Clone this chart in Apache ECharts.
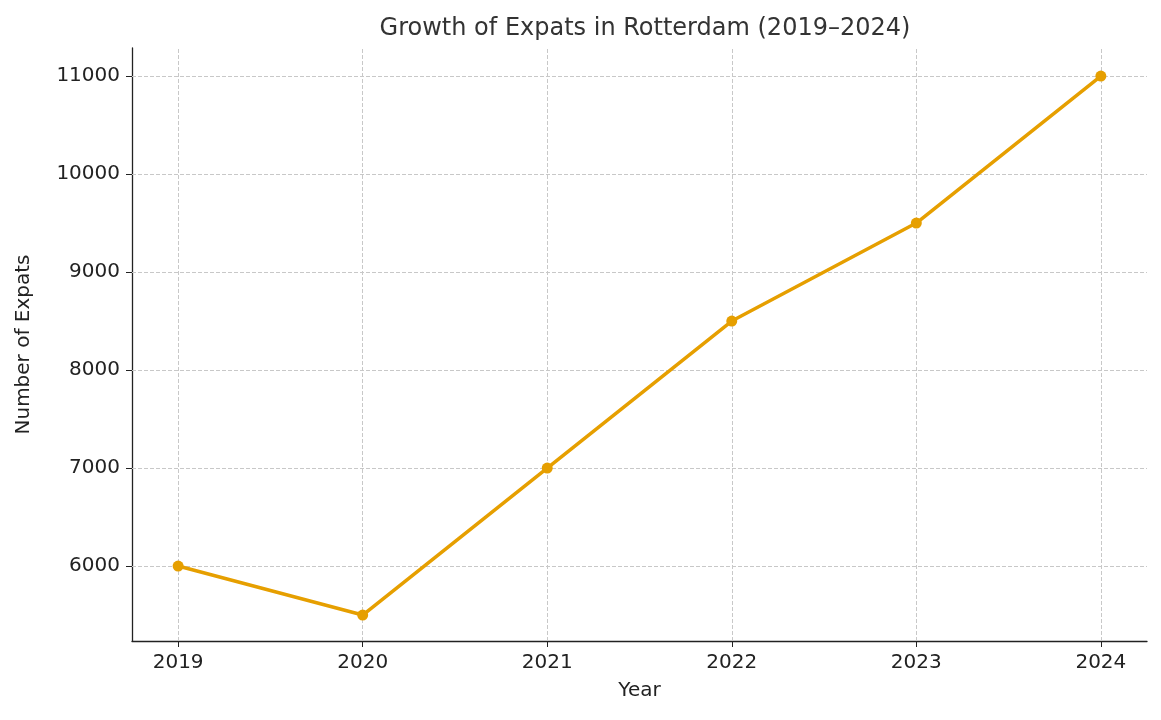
<!DOCTYPE html>
<html><head><meta charset="utf-8">
<script src="https://cdn.jsdelivr.net/npm/echarts@6/dist/echarts.min.js"></script>
<style>html,body{margin:0;background:#fff}#c{width:1161px;height:720px}</style>
</head><body><div id="c"></div>
<script>
var years = [2019, 2020, 2021, 2022, 2023, 2024]
var expats = [6000, 5500, 7000, 8500, 9500, 11000]
var yTicks = [6000, 7000, 8000, 9000, 10000, 11000]

var chart = echarts.init(document.getElementById('c'))
var grid = {type: 'dashed', color: '#c8c8c8', width: 1}
var font = 'DejaVu Sans'

var lines = []
years.forEach(function (y) { lines.push({xAxis: y}) })
yTicks.forEach(function (v) { lines.push({yAxis: v}) })

chart.setOption({
    animation: false,
    title: {
        text: 'Growth of Expats in Rotterdam (2019\u20132024)',
        left: 640, top: 12, textAlign: 'center',
        textStyle: {fontFamily: font, fontSize: 24, fontWeight: 'normal', color: '#333'}
    },
    grid: {left: 132, right: 14, top: 48, bottom: 79},
    xAxis: {
        type: 'value', min: 2018.75, max: 2024.25,
        name: 'Year', nameLocation: 'middle', nameGap: 40,
        nameTextStyle: {fontFamily: font, fontSize: 20, color: '#222'},
        axisLine: {lineStyle: {color: '#222', width: 1.3}},
        axisTick: {customValues: years, length: 6, lineStyle: {color: '#222'}},
        axisLabel: {customValues: years, formatter: function (v) { return String(v) },
            fontFamily: font, fontSize: 20, color: '#222', margin: 12},
        splitLine: {show: false}
    },
    yAxis: {
        type: 'value', min: 5235, max: 11286,
        name: 'Number of Expats', nameLocation: 'middle', nameGap: 98, nameRotate: 90,
        nameTextStyle: {fontFamily: font, fontSize: 20, color: '#222'},
        axisLine: {show: true, lineStyle: {color: '#222', width: 1.3}},
        axisTick: {show: true, customValues: yTicks, length: 6, lineStyle: {color: '#222'}},
        axisLabel: {customValues: yTicks, formatter: function (v) { return String(v) },
            fontFamily: font, fontSize: 20, color: '#222', margin: 12},
        splitLine: {show: false}
    },
    series: [{
        type: 'line',
        data: years.map(function (y, i) { return [y, expats[i]] }),
        symbol: 'circle', symbolSize: 11,
        lineStyle: {color: '#e69f00', width: 3.5},
        itemStyle: {color: '#e69f00'},
        z: 5,
        markLine: {
            silent: true, symbol: 'none', label: {show: false},
            lineStyle: grid, data: lines, z: 1
        }
    }]
})
</script>
</body></html>
